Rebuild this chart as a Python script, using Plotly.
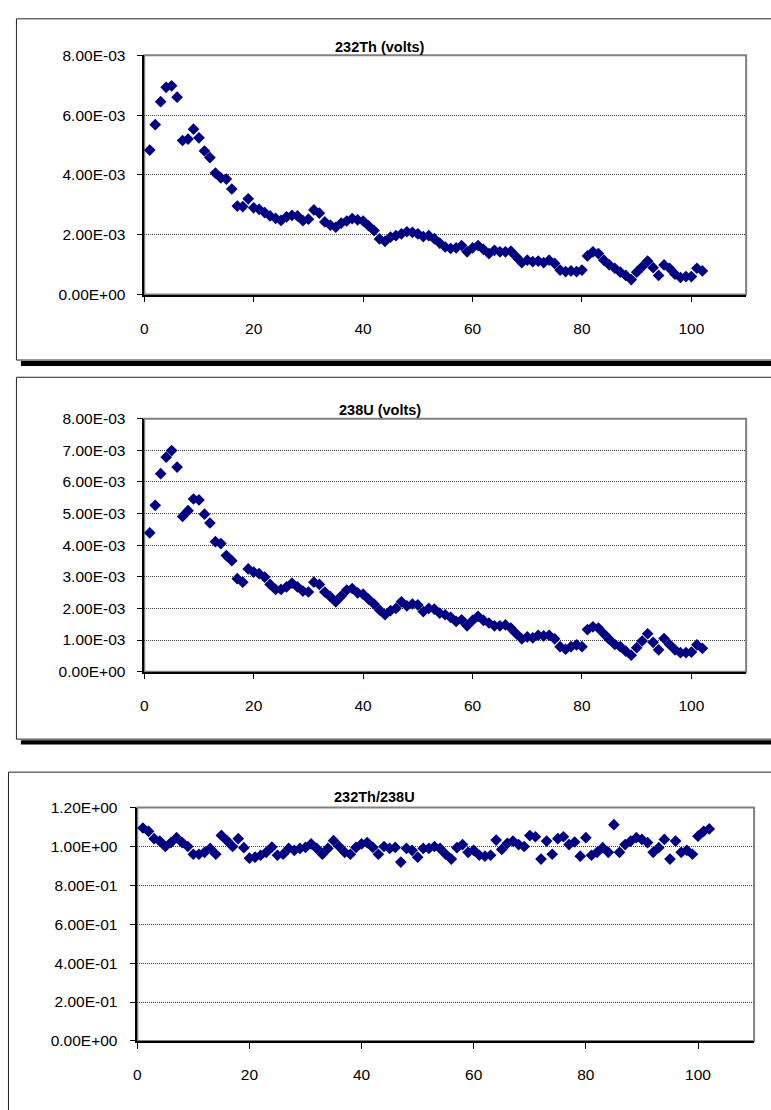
import plotly.graph_objects as go

W, H = 771, 1110

sample = list(range(1, 103))

th232 = [4.83, 5.68, 6.45, 6.93, 6.98, 6.60, 5.15, 5.20, 5.53, 5.24,
         4.80, 4.58, 4.06, 3.90, 3.86, 3.53, 2.96, 2.94, 3.20, 2.90,
         2.85, 2.74, 2.63, 2.55, 2.48, 2.60, 2.65, 2.63, 2.47, 2.52,
         2.83, 2.72, 2.43, 2.32, 2.25, 2.39, 2.46, 2.54, 2.50, 2.46,
         2.30, 2.14, 1.86, 1.78, 1.92, 1.97, 2.03, 2.10, 2.08, 2.03,
         1.94, 1.97, 1.87, 1.72, 1.59, 1.54, 1.56, 1.64, 1.43, 1.56,
         1.64, 1.51, 1.37, 1.48, 1.43, 1.43, 1.45, 1.26, 1.07, 1.15,
         1.10, 1.12, 1.07, 1.15, 1.04, 0.82, 0.77, 0.79, 0.77, 0.82,
         1.29, 1.43, 1.37, 1.15, 0.99, 0.88, 0.75, 0.64, 0.50, 0.75,
         0.93, 1.12, 0.90, 0.64, 0.99, 0.88, 0.68, 0.57, 0.60, 0.60,
         0.88, 0.79]
th232 = [v * 1e-3 for v in th232]

u238 = [4.39, 5.26, 6.26, 6.78, 6.99, 6.47, 4.91, 5.09, 5.46, 5.43,
        4.98, 4.70, 4.11, 4.05, 3.67, 3.51, 2.94, 2.83, 3.25, 3.15,
        3.10, 2.99, 2.76, 2.60, 2.60, 2.68, 2.80, 2.68, 2.55, 2.52,
        2.83, 2.76, 2.52, 2.37, 2.21, 2.39, 2.58, 2.63, 2.49, 2.45,
        2.29, 2.14, 1.95, 1.80, 1.93, 2.00, 2.21, 2.08, 2.14, 2.11,
        1.90, 2.00, 1.98, 1.85, 1.80, 1.72, 1.59, 1.64, 1.45, 1.62,
        1.75, 1.62, 1.54, 1.45, 1.45, 1.48, 1.38, 1.20, 1.04, 1.10,
        1.07, 1.15, 1.13, 1.15, 1.04, 0.79, 0.71, 0.79, 0.85, 0.79,
        1.33, 1.42, 1.38, 1.20, 1.02, 0.86, 0.79, 0.65, 0.52, 0.76,
        0.97, 1.20, 0.93, 0.69, 1.05, 0.86, 0.69, 0.60, 0.60, 0.62,
        0.85, 0.74]
u238 = [v * 1e-3 for v in u238]

ratio = [1.095, 1.078, 1.040, 1.028, 1.000, 1.020, 1.045, 1.020, 1.000, 0.960,
         0.960, 0.970, 0.990, 0.960, 1.057, 1.030, 1.000, 1.040, 0.994, 0.940,
         0.945, 0.955, 0.970, 0.997, 0.955, 0.960, 0.990, 0.980, 0.990, 0.995,
         1.013, 0.990, 0.960, 0.990, 1.030, 1.000, 0.970, 0.960, 0.995, 1.013,
         1.020, 0.995, 0.960, 1.000, 0.990, 0.995, 0.920, 0.990, 0.980, 0.945,
         0.990, 0.990, 1.000, 0.990, 0.960, 0.935, 0.994, 1.010, 0.970, 0.980,
         0.955, 0.950, 0.955, 1.033, 0.985, 1.016, 1.028, 1.010, 1.000, 1.056,
         1.050, 0.935, 1.028, 0.960, 1.040, 1.050, 1.010, 1.023, 0.950, 1.045,
         0.955, 0.970, 0.994, 0.970, 1.112, 0.970, 1.010, 1.028, 1.045, 1.036,
         1.020, 0.970, 0.994, 1.036, 0.935, 1.028, 0.970, 0.980, 0.960, 1.053,
         1.078, 1.090]

titles = ["232Th (volts)", "238U (volts)", "232Th/238U"]

x_ticks = [0, 20, 40, 60, 80, 100]
x_ticklabels = ["0", "20", "40", "60", "80", "100"]

y1_ticks = [0, 0.002, 0.004, 0.006, 0.008]
y1_ticklabels = ["0.00E+00", "2.00E-03", "4.00E-03", "6.00E-03", "8.00E-03"]
y2_ticks = [0, 0.001, 0.002, 0.003, 0.004, 0.005, 0.006, 0.007, 0.008]
y2_ticklabels = ["0.00E+00", "1.00E-03", "2.00E-03", "3.00E-03", "4.00E-03",
                 "5.00E-03", "6.00E-03", "7.00E-03", "8.00E-03"]
y3_ticks = [0, 0.2, 0.4, 0.6, 0.8, 1.0, 1.2]
y3_ticklabels = ["0.00E+00", "2.00E-01", "4.00E-01", "6.00E-01", "8.00E-01",
                 "1.00E+00", "1.20E+00"]

FONT = "Liberation Sans"
NAVY = "#000080"


def px(v):
    return v / W


def py(v):
    return 1 - v / H


# plot-area pixel boxes (left, top, right, bottom)
boxes = [(141, 47, 746, 290), (141, 416, 746, 673), (134, 811, 754, 1048)]
yranges = [[0, 0.008], [0, 0.008], [0, 1.2]]
yticks = [(y1_ticks, y1_ticklabels), (y2_ticks, y2_ticklabels), (y3_ticks, y3_ticklabels)]
ystand = [8, 8, 9]
series = [th232, u238, ratio]

fig = go.Figure()
layout = dict(
    width=W, height=H, margin=dict(l=0, r=0, t=0, b=0),
    paper_bgcolor="white", plot_bgcolor="white", showlegend=False,
    font=dict(family=FONT, size=15, color="black"),
)
shapes = []
annotations = []

for i in range(3):
    n = "" if i == 0 else str(i + 1)
    L, T, R, B = boxes[i]
    fig.add_trace(go.Scatter(
        x=sample, y=series[i], mode="markers",
        marker=dict(symbol="diamond", size=9, color=NAVY,
                    line=dict(width=0)),
        xaxis="x" + n, yaxis="y" + n, hoverinfo="skip"))
    layout["xaxis" + n] = dict(
        domain=[px(L), px(R)], range=[0, 110], anchor="y" + n,
        tickvals=x_ticks, ticktext=x_ticklabels, ticks="outside", ticklen=6,
        tickcolor="black", showline=True, linecolor="black", linewidth=1.5,
        showgrid=False, zeroline=False, ticklabelstandoff=13,
        tickfont=dict(family=FONT, size=15.5, color="black"))
    layout["yaxis" + n] = dict(
        domain=[py(B), py(T)], range=yranges[i], anchor="x" + n,
        tickvals=yticks[i][0], ticktext=yticks[i][1], ticks="outside", ticklen=6,
        tickcolor="black", showline=True, linecolor="black", linewidth=1.5,
        showgrid=True, gridcolor="#404040", griddash="1px,1px", gridwidth=1,
        zeroline=False, ticklabelstandoff=ystand[i],
        tickfont=dict(family=FONT, size=15.5, color="black"))
    # gray plot-area border (top & right)
    shapes.append(dict(type="rect", xref="paper", yref="paper",
                       x0=px(L), x1=px(R), y0=py(B), y1=py(T),
                       line=dict(color="#808080", width=2), layer="below"))

# outer chart frames with shadows
frames = [(12.5, 10, 790, 356.5), (12.5, 374, 790, 741.5), (4.5, 775, 790, 1130)]
for (L, T, R, B) in frames:
    shapes.append(dict(type="rect", xref="paper", yref="paper",
                       x0=px(L), x1=px(R), y0=py(B), y1=py(T),
                       line=dict(color="#222222", width=1), layer="below"))
for (T, B) in [(357.5, 362.5), (742.5, 747)]:
    shapes.append(dict(type="rect", xref="paper", yref="paper",
                       x0=px(17), x1=px(790), y0=py(B), y1=py(T),
                       fillcolor="black", line=dict(width=0), layer="below"))

title_pos = [(378, 39), (378, 407), (372, 800)]
for t, (x, y) in zip(titles, title_pos):
    annotations.append(dict(text="<b>" + t + "</b>", x=px(x), y=py(y),
                            xref="paper", yref="paper", showarrow=False,
                            xanchor="center", yanchor="middle",
                            font=dict(family=FONT, size=14.5, color="black")))

layout["shapes"] = shapes
layout["annotations"] = annotations
fig.update_layout(**layout)
fig.write_html("out.html")
